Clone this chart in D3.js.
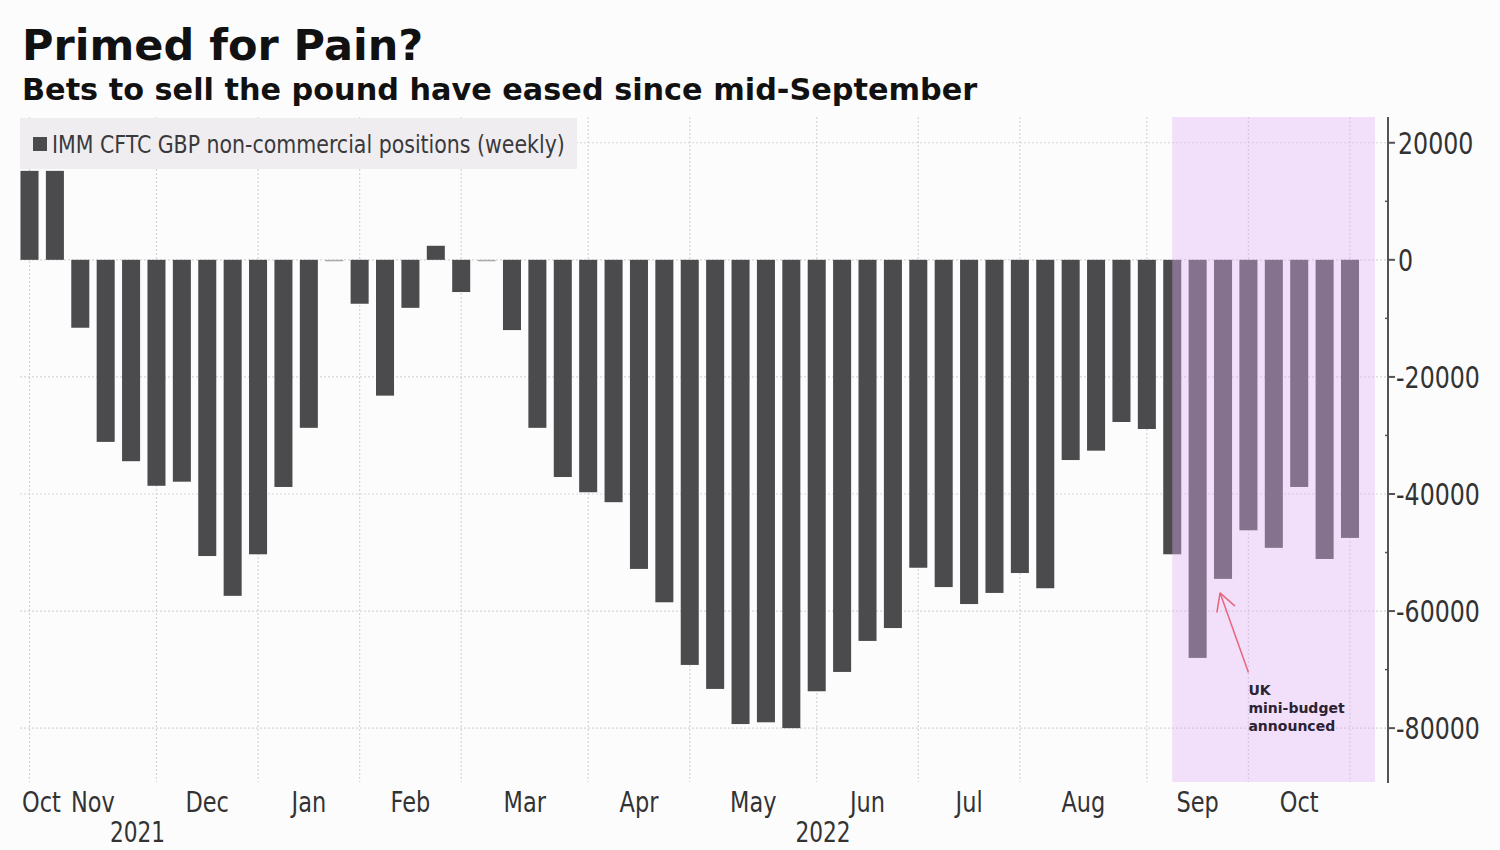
<!DOCTYPE html>
<html>
<head>
<meta charset="utf-8">
<script src="https://cdn.jsdelivr.net/npm/d3@7"></script>
<style>
  html, body { margin: 0; padding: 0; background: #fdfcfd; }
  svg { display: block; }
  .narrow { font-family: "Liberation Sans Narrow", "DejaVu Sans Condensed", "DejaVu Sans", sans-serif; }
</style>
</head>
<body>
<svg id="chart" width="1500" height="850"></svg>
<script>
// ---- data ----
const title = "Primed for Pain?";
const subtitle = "Bets to sell the pound have eased since mid-September";
const seriesName = "IMM CFTC GBP non-commercial positions (weekly)";
const weeks = [
  "2021-11-02","2021-11-09","2021-11-16","2021-11-23","2021-11-30",
  "2021-12-07","2021-12-14","2021-12-21","2021-12-28",
  "2022-01-04","2022-01-11","2022-01-18","2022-01-25",
  "2022-02-01","2022-02-08","2022-02-15","2022-02-22",
  "2022-03-01","2022-03-08","2022-03-15","2022-03-22","2022-03-29",
  "2022-04-05","2022-04-12","2022-04-19","2022-04-26",
  "2022-05-03","2022-05-10","2022-05-17","2022-05-24","2022-05-31",
  "2022-06-07","2022-06-14","2022-06-21","2022-06-28",
  "2022-07-05","2022-07-12","2022-07-19","2022-07-26",
  "2022-08-02","2022-08-09","2022-08-16","2022-08-23","2022-08-30",
  "2022-09-06","2022-09-13","2022-09-20","2022-09-27",
  "2022-10-04","2022-10-11","2022-10-18","2022-10-25",
  "2022-11-01"
];
const positions = [
  15200, 15200, -11600, -31100, -34400,
  -38600, -37900, -50600, -57400,
  -50300, -38800, -28700, -250,
  -7500, -23200, -8200, 2400,
  -5500, -250, -12000, -28700, -37100,
  -39700, -41400, -52800, -58500,
  -69200, -73300, -79300, -79000, -80000,
  -73700, -70400, -65100, -62900,
  -52600, -55900, -58800, -56900,
  -53500, -56100, -34200, -32600, -27700,
  -28900, -50300, -68000, -54500,
  -46200, -49200, -38800, -51100,
  -47500
];
const yTicks = [20000, 0, -20000, -40000, -60000, -80000];
const yMinorTicks = [10000, -10000, -30000, -50000, -70000];
const monthLabels = ["Oct", "Nov", "Dec", "Jan", "Feb", "Mar", "Apr", "May", "Jun", "Jul", "Aug", "Sep", "Oct"];
const monthStarts = ["2021-10-01","2021-11-02","2021-12-07","2022-01-04","2022-02-01","2022-03-01","2022-04-05","2022-05-03","2022-06-07","2022-07-05","2022-08-02","2022-09-06","2022-10-04","2022-11-01"];
const yearLabels = ["2021", "2022"];
const highlightStart = "2022-09-13";
const annotationWeek = "2022-09-27";
const annotationLines = ["UK", "mini-budget", "announced"];

// ---- layout ----
const svg = d3.select("#chart");
const plot = { left: 17, right: 1388, top: 117, bottom: 782 };
const barColor = "#4b4a4d";

const x = d3.scalePoint().domain(weeks).range([29.5, 1350]);
const step = x.step();
const barW = step * 0.71;
const y = d3.scaleLinear().domain([-89200, 24400]).range([plot.bottom, plot.top]);

// squeeze text horizontally to mimic a condensed face
function condense(sel, f) {
  sel.each(function () {
    const w = this.getComputedTextLength();
    d3.select(this).attr("textLength", w * f).attr("lengthAdjust", "spacingAndGlyphs");
  });
}

// background
svg.append("rect").attr("width", 1500).attr("height", 850).attr("fill", "#fdfcfd");

// titles
svg.append("text").attr("x", 22).attr("y", 60)
  .attr("font-family", "DejaVu Sans, Verdana, sans-serif").attr("font-weight", "bold")
  .attr("font-size", 43).attr("fill", "#111").text(title);
svg.append("text").attr("x", 22).attr("y", 100)
  .attr("font-family", "DejaVu Sans, Verdana, sans-serif").attr("font-weight", "bold")
  .attr("font-size", 30.3).attr("fill", "#111").text(subtitle);

// horizontal grid
const g = svg.append("g");
g.selectAll(".hgrid").data(yTicks).join("line")
  .attr("x1", 20).attr("x2", plot.right)
  .attr("y1", d => y(d)).attr("y2", d => y(d))
  .attr("stroke", "#d6d4d8").attr("stroke-width", 1.2).attr("stroke-dasharray", "2,2");

// vertical grid at first bar of each month
const gridWeeks = monthStarts.filter(d => weeks.includes(d));
g.selectAll(".vgrid").data(gridWeeks).join("line")
  .attr("x1", d => x(d)).attr("x2", d => x(d))
  .attr("y1", plot.top).attr("y2", plot.bottom)
  .attr("stroke", "#d6d4d8").attr("stroke-width", 1.2).attr("stroke-dasharray", "2,2");

// legend
svg.append("rect").attr("x", 20).attr("y", 118).attr("width", 557).attr("height", 51).attr("fill", "#efedef");
svg.append("rect").attr("x", 33).attr("y", 137).attr("width", 14).attr("height", 14).attr("fill", barColor);
svg.append("text").attr("class", "narrow").attr("x", 52).attr("y", 153)
  .attr("font-size", 24).attr("fill", "#3a393c").text(seriesName)
  .call(condense, 0.95);

// bars
svg.append("g").selectAll("rect").data(weeks).join("rect")
  .attr("x", (d) => x(d) - barW / 2)
  .attr("width", barW)
  .attr("y", (d, i) => Math.min(y(positions[i]), y(0)))
  .attr("height", (d, i) => Math.max(1.2, Math.abs(y(positions[i]) - y(0))))
  .attr("fill", (d, i) => Math.abs(positions[i]) < 1000 ? "#a9a7ab" : barColor);

// highlight region (overlay)
svg.append("rect")
  .attr("x", x(highlightStart)).attr("y", plot.top)
  .attr("width", 1375 - x(highlightStart)).attr("height", plot.bottom - plot.top)
  .attr("fill", "#e0b1f5").attr("opacity", 0.39);

// right axis
const axis = svg.append("g");
axis.append("line").attr("x1", plot.right).attr("x2", plot.right)
  .attr("y1", plot.top).attr("y2", plot.bottom + 1)
  .attr("stroke", "#555358").attr("stroke-width", 2);
axis.selectAll(".tick").data(yTicks).join("line")
  .attr("x1", plot.right).attr("x2", plot.right + 7)
  .attr("y1", d => y(d)).attr("y2", d => y(d))
  .attr("stroke", "#555358").attr("stroke-width", 2);
axis.selectAll(".mtick").data(yMinorTicks).join("line")
  .attr("x1", plot.right - 3).attr("x2", plot.right)
  .attr("y1", d => y(d)).attr("y2", d => y(d))
  .attr("stroke", "#555358").attr("stroke-width", 1.5);
axis.selectAll("text").data(yTicks).join("text")
  .attr("class", "narrow")
  .attr("x", d => d < 0 ? plot.right + 8 : plot.right + 10)
  .attr("y", d => y(d) + 11)
  .attr("font-size", 31).attr("fill", "#333").text(d => d < 0 ? "-" + Math.abs(d) : String(d))
  .call(condense, 0.85);

// month labels: centred between month start bars, clamped at left edge
const monthPos = monthLabels.map((m, i) => {
  const a = weeks.includes(monthStarts[i]) ? x(monthStarts[i]) : plot.left;
  const b = x(monthStarts[i + 1]);
  return { m, a, b };
});
svg.append("g").selectAll("text").data(monthPos).join("text")
  .attr("class", "narrow")
  .attr("x", d => d.a === plot.left ? plot.left + 5 : (d.a + d.b) / 2)
  .attr("text-anchor", d => d.a === plot.left ? "start" : "middle")
  .attr("y", 812).attr("font-size", 29).attr("fill", "#333").text(d => d.m)
  .call(condense, 0.86);

// year labels
const yearSpans = [[plot.left, x("2022-01-04")], [x("2022-01-04"), plot.right]];
svg.append("g").selectAll("text").data(yearLabels).join("text")
  .attr("class", "narrow")
  .attr("x", (d, i) => (yearSpans[i][0] + yearSpans[i][1]) / 2)
  .attr("text-anchor", "middle").attr("y", 842)
  .attr("font-size", 28).attr("fill", "#333").text(d => d)
  .call(condense, 0.86);

// annotation
const ai = weeks.indexOf(annotationWeek);
const tipX = x(annotationWeek) - 3;
const tipY = y(positions[ai]) + 14;
const tailX = x(weeks[ai + 1]);
const tailY = y(-70500);
const ann = svg.append("g");
ann.append("line").attr("x1", tailX).attr("y1", tailY).attr("x2", tipX).attr("y2", tipY)
  .attr("stroke", "#e8667c").attr("stroke-width", 1.5);
const ang = Math.atan2(tailY - tipY, tailX - tipX);
[0.5, -0.5].forEach(da => {
  ann.append("line").attr("x1", tipX).attr("y1", tipY)
    .attr("x2", tipX + 20 * Math.cos(ang + da)).attr("y2", tipY + 20 * Math.sin(ang + da))
    .attr("stroke", "#e8667c").attr("stroke-width", 1.5);
});
ann.append("g").selectAll("text").data(annotationLines).join("text")
  .attr("x", tailX).attr("y", (d, i) => tailY + 22 + i * 18)
  .attr("font-family", "DejaVu Sans, Verdana, sans-serif").attr("font-weight", "bold")
  .attr("font-size", 14).attr("fill", "#2b2233").text(d => d);
</script>
</body>
</html>
